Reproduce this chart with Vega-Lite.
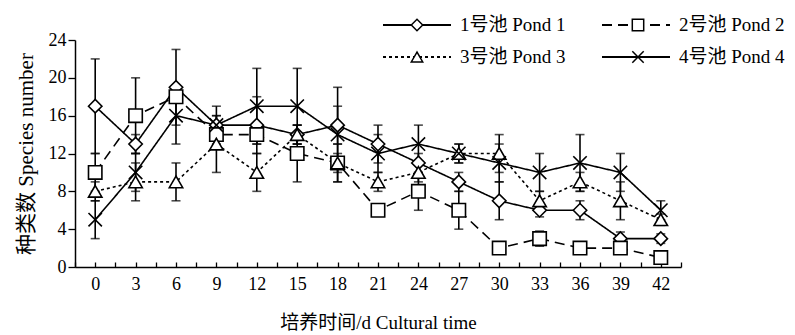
{
  "$schema": "https://vega.github.io/schema/vega-lite/v6.json",
  "width": 606,
  "height": 227,
  "autosize": "none",
  "padding": {"left": 75, "top": 40, "right": 114, "bottom": 68},
  "background": "white",
  "config": {
    "view": {"stroke": null},
    "font": "Liberation Serif, Noto Sans CJK SC",
    "axis": {
      "grid": false,
      "domainColor": "black",
      "domainWidth": 1.5,
      "tickColor": "black",
      "tickWidth": 1.3,
      "labelColor": "black",
      "labelFont": "Liberation Serif",
      "labelFontSize": 18,
      "labelOverlap": false,
      "titleColor": "black",
      "titleFont": "Liberation Serif, Noto Sans CJK SC",
      "titleFontSize": 21,
      "titleFontWeight": "normal"
    },
    "legend": {
      "labelFont": "Liberation Serif, Noto Sans CJK SC",
      "labelFontSize": 19,
      "labelColor": "black"
    }
  },
  "data": {
    "values": [
      {"day": 0, "pond": "1号池 Pond 1", "n": 17, "lo": 12, "hi": 22},
      {"day": 3, "pond": "1号池 Pond 1", "n": 13, "lo": 12, "hi": 14},
      {"day": 6, "pond": "1号池 Pond 1", "n": 19, "lo": 15, "hi": 23},
      {"day": 9, "pond": "1号池 Pond 1", "n": 15, "lo": 14, "hi": 16},
      {"day": 12, "pond": "1号池 Pond 1", "n": 15, "lo": 12, "hi": 18},
      {"day": 15, "pond": "1号池 Pond 1", "n": 14, "lo": 13, "hi": 15},
      {"day": 18, "pond": "1号池 Pond 1", "n": 15, "lo": 13, "hi": 17},
      {"day": 21, "pond": "1号池 Pond 1", "n": 13, "lo": 11, "hi": 15},
      {"day": 24, "pond": "1号池 Pond 1", "n": 11, "lo": 10, "hi": 12},
      {"day": 27, "pond": "1号池 Pond 1", "n": 9, "lo": 8, "hi": 10},
      {"day": 30, "pond": "1号池 Pond 1", "n": 7, "lo": 5, "hi": 9},
      {"day": 33, "pond": "1号池 Pond 1", "n": 6, "lo": 5.3, "hi": 6.7},
      {"day": 36, "pond": "1号池 Pond 1", "n": 6, "lo": 5, "hi": 7},
      {"day": 39, "pond": "1号池 Pond 1", "n": 3, "lo": 2.3, "hi": 3.7},
      {"day": 42, "pond": "1号池 Pond 1", "n": 3, "lo": 2.5, "hi": 3.5},
      {"day": 0, "pond": "2号池 Pond 2", "n": 10, "lo": 8, "hi": 12},
      {"day": 3, "pond": "2号池 Pond 2", "n": 16, "lo": 12, "hi": 20},
      {"day": 6, "pond": "2号池 Pond 2", "n": 18, "lo": 17.5, "hi": 18.5},
      {"day": 9, "pond": "2号池 Pond 2", "n": 14, "lo": 13.5, "hi": 14.5},
      {"day": 12, "pond": "2号池 Pond 2", "n": 14, "lo": 13, "hi": 15},
      {"day": 15, "pond": "2号池 Pond 2", "n": 12, "lo": 9, "hi": 15},
      {"day": 18, "pond": "2号池 Pond 2", "n": 11, "lo": 9, "hi": 13},
      {"day": 21, "pond": "2号池 Pond 2", "n": 6, "lo": 5.5, "hi": 6.5},
      {"day": 24, "pond": "2号池 Pond 2", "n": 8, "lo": 6, "hi": 10},
      {"day": 27, "pond": "2号池 Pond 2", "n": 6, "lo": 4, "hi": 8},
      {"day": 30, "pond": "2号池 Pond 2", "n": 2, "lo": 1.7, "hi": 2.3},
      {"day": 33, "pond": "2号池 Pond 2", "n": 3, "lo": 2.2, "hi": 3.8},
      {"day": 36, "pond": "2号池 Pond 2", "n": 2, "lo": 1.7, "hi": 2.3},
      {"day": 39, "pond": "2号池 Pond 2", "n": 2, "lo": 1.7, "hi": 2.3},
      {"day": 42, "pond": "2号池 Pond 2", "n": 1, "lo": 0.7, "hi": 1.3},
      {"day": 0, "pond": "3号池 Pond 3", "n": 8, "lo": 7, "hi": 9},
      {"day": 3, "pond": "3号池 Pond 3", "n": 9, "lo": 7, "hi": 11},
      {"day": 6, "pond": "3号池 Pond 3", "n": 9, "lo": 7, "hi": 11},
      {"day": 9, "pond": "3号池 Pond 3", "n": 13, "lo": 10, "hi": 16},
      {"day": 12, "pond": "3号池 Pond 3", "n": 10, "lo": 8, "hi": 12},
      {"day": 15, "pond": "3号池 Pond 3", "n": 14, "lo": 13, "hi": 15},
      {"day": 18, "pond": "3号池 Pond 3", "n": 11, "lo": 10, "hi": 12},
      {"day": 21, "pond": "3号池 Pond 3", "n": 9, "lo": 8, "hi": 10},
      {"day": 24, "pond": "3号池 Pond 3", "n": 10, "lo": 9, "hi": 11},
      {"day": 27, "pond": "3号池 Pond 3", "n": 12, "lo": 11, "hi": 13},
      {"day": 30, "pond": "3号池 Pond 3", "n": 12, "lo": 10, "hi": 14},
      {"day": 33, "pond": "3号池 Pond 3", "n": 7, "lo": 6, "hi": 8},
      {"day": 36, "pond": "3号池 Pond 3", "n": 9, "lo": 8, "hi": 10},
      {"day": 39, "pond": "3号池 Pond 3", "n": 7, "lo": 5, "hi": 9},
      {"day": 42, "pond": "3号池 Pond 3", "n": 5, "lo": 4.4, "hi": 5.6},
      {"day": 0, "pond": "4号池 Pond 4", "n": 5, "lo": 3, "hi": 7},
      {"day": 3, "pond": "4号池 Pond 4", "n": 10, "lo": 8, "hi": 12},
      {"day": 6, "pond": "4号池 Pond 4", "n": 16, "lo": 13, "hi": 19},
      {"day": 9, "pond": "4号池 Pond 4", "n": 15, "lo": 13, "hi": 17},
      {"day": 12, "pond": "4号池 Pond 4", "n": 17, "lo": 13, "hi": 21},
      {"day": 15, "pond": "4号池 Pond 4", "n": 17, "lo": 13, "hi": 21},
      {"day": 18, "pond": "4号池 Pond 4", "n": 14, "lo": 9, "hi": 19},
      {"day": 21, "pond": "4号池 Pond 4", "n": 12, "lo": 10, "hi": 14},
      {"day": 24, "pond": "4号池 Pond 4", "n": 13, "lo": 11, "hi": 15},
      {"day": 27, "pond": "4号池 Pond 4", "n": 12, "lo": 11, "hi": 13},
      {"day": 30, "pond": "4号池 Pond 4", "n": 11, "lo": 9, "hi": 13},
      {"day": 33, "pond": "4号池 Pond 4", "n": 10, "lo": 8, "hi": 12},
      {"day": 36, "pond": "4号池 Pond 4", "n": 11, "lo": 8, "hi": 14},
      {"day": 39, "pond": "4号池 Pond 4", "n": 10, "lo": 8, "hi": 12},
      {"day": 42, "pond": "4号池 Pond 4", "n": 6, "lo": 5, "hi": 7}
    ]
  },
  "encoding": {
    "x": {
      "field": "day",
      "type": "quantitative",
      "scale": {"domain": [-1.5, 43.5], "nice": false, "zero": false},
      "axis": {
        "title": "培养时间/d Cultural time",
        "titleFontSize": 19,
        "values": [-1.5, 0, 1.5, 3, 4.5, 6, 7.5, 9, 10.5, 12, 13.5, 15, 16.5, 18, 19.5, 21, 22.5, 24, 25.5, 27, 28.5, 30, 31.5, 33, 34.5, 36, 37.5, 39, 40.5, 42, 43.5],
        "labelExpr": "datum.value % 3 === 0 ? datum.label : ''",
        "labelOverlap": false,
        "labelFlush": false,
        "labelFont": "Liberation Serif",
        "tickSize": -5,
        "labelPadding": 13,
        "titlePadding": 20
      }
    }
  },
  "layer": [
    {
      "mark": {"type": "errorbar", "ticks": true, "size": 9, "thickness": 1.6, "color": "black"},
      "encoding": {
        "y": {
          "field": "lo",
          "type": "quantitative",
          "scale": {"domain": [0, 24], "nice": false},
          "axis": {"title": "种类数 Species number", "values": [0, 4, 8, 12, 16, 20, 24], "labelOverlap": false, "labelFont": "Liberation Serif", "tickSize": 7, "labelPadding": 2, "titlePadding": 12}
        },
        "y2": {"field": "hi"}
      }
    },
    {
      "mark": {"type": "line", "color": "black", "strokeWidth": 1.6},
      "encoding": {
        "y": {
          "field": "n",
          "type": "quantitative",
          "scale": {"domain": [0, 24], "nice": false},
          "axis": {"title": "种类数 Species number", "values": [0, 4, 8, 12, 16, 20, 24], "labelOverlap": false, "labelFont": "Liberation Serif", "tickSize": 7, "labelPadding": 2, "titlePadding": 12}
        },
        "strokeDash": {
          "field": "pond",
          "type": "nominal",
          "scale": {
            "domain": ["1号池 Pond 1", "2号池 Pond 2", "3号池 Pond 3", "4号池 Pond 4"],
            "range": [[1, 0], [10, 6], [3, 3], [1, 0]]
          },
          "legend": {
            "title": null,
            "orient": "none",
            "direction": "horizontal",
            "legendX": 307,
            "legendY": -25,
            "columns": 2,
            "padding": 0,
            "symbolType": "stroke",
            "symbolSize": 4624,
            "symbolStrokeWidth": 1.8,
            "symbolStrokeColor": "black",
            "clipHeight": 20,
            "rowPadding": 12,
            "columnPadding": 35,
            "labelOffset": 8
          }
        }
      }
    },
    {
      "mark": {"type": "point", "filled": true, "fill": "white", "stroke": "black", "strokeWidth": 1.6, "size": 180, "opacity": 1},
      "encoding": {
        "y": {
          "field": "n",
          "type": "quantitative",
          "scale": {"domain": [0, 24], "nice": false},
          "axis": {"title": "种类数 Species number", "values": [0, 4, 8, 12, 16, 20, 24], "labelOverlap": false, "labelFont": "Liberation Serif", "tickSize": 7, "labelPadding": 2, "titlePadding": 12}
        },
        "shape": {
          "field": "pond",
          "type": "nominal",
          "scale": {"range": ["diamond", "square", "triangle-up", "M-1,-1L1,1M1,-1L-1,1"]},
          "legend": {
            "title": null,
            "orient": "none",
            "direction": "horizontal",
            "legendX": 307,
            "legendY": -25,
            "columns": 2,
            "padding": 0,
            "symbolSize": 130,
            "symbolOffset": 25.5,
            "clipHeight": 20,
            "rowPadding": 12,
            "columnPadding": 117,
            "labelOffset": 59,
            "labelExpr": "''",
            "encode": {
              "symbols": {
                "update": {
                  "fill": {"value": "white"},
                  "stroke": {"value": "black"},
                  "strokeWidth": {"value": 1.8},
                  "opacity": {"value": 1},
                  "fillOpacity": {"value": 1},
                  "strokeOpacity": {"value": 1}
                }
              }
            }
          }
        }
      }
    }
  ]
}
